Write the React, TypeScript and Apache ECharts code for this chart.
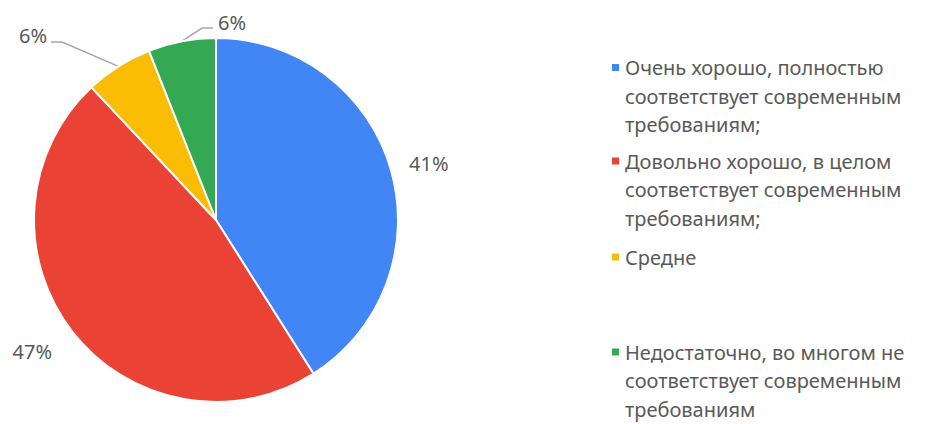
import React, { useEffect, useRef } from "react";
import * as echarts from "echarts";

const categories = [
  "Очень хорошо, полностью соответствует современным требованиям;",
  "Довольно хорошо, в целом соответствует современным требованиям;",
  "Средне",
  "Недостаточно, во многом не соответствует современным требованиям",
];
const legendLines = [
  "Очень хорошо, полностью\nсоответствует современным\nтребованиям;",
  "Довольно хорошо, в целом\nсоответствует современным\nтребованиям;",
  "Средне",
  "Недостаточно, во многом не\nсоответствует современным\nтребованиям",
];
const values = [41, 47, 6, 6];
const colors = ["#4285F4", "#EA4335", "#FBBC04", "#34A853"];

const FONT = "'Noto Sans', sans-serif";
const TEXT = "#595959";
const LINE_H = 28.5;

// label placement (layout only)
const labelPlaces: any[] = [
  { x: 409, y: 163, align: "left" },
  { x: 52, y: 351, align: "right" },
  { x: 47, y: 35, align: "right", bend: [62, 42], end: [51, 42] },
  { x: 218, y: 22, align: "left", bend: [202, 28], end: [213, 28] },
];
const legendIconY = [67.5, 161, 257, 352];

export default function App() {
  const ref = useRef<HTMLDivElement>(null);
  useEffect(() => {
    document.body.style.margin = "0";
    const chart = echarts.init(ref.current!, null, { renderer: "svg" });
    const legends = categories.map((name, i) => {
      const lines = legendLines[i].split("\n").length;
      const lead = "\n".repeat(lines - 1);
      const total = 2 * lines - 1;
      const h = total * LINE_H;
      return {
        data: [name],
        left: 605,
        top: legendIconY[i] - 5 - h / 2,
        orient: "vertical",
        icon: "rect",
        itemWidth: 9,
        itemHeight: 9,
        selectedMode: false,
        formatter: () => lead + legendLines[i],
        textStyle: {
          fontFamily: FONT,
          fontSize: 20,
          color: TEXT,
          lineHeight: LINE_H,
        },
      };
    });
    chart.setOption({
      animation: false,
      backgroundColor: "#fff",
      color: colors,
      legend: legends,
      series: [
        {
          type: "pie",
          center: [216, 220],
          radius: 182,
          startAngle: 90,
          clockwise: true,
          avoidLabelOverlap: false,
          percentPrecision: 0,
          itemStyle: { borderColor: "#fff", borderWidth: 2 },
          label: {
            show: true,
            position: "outside",
            formatter: "{d}%",
            fontFamily: FONT,
            fontSize: 20,
            color: TEXT,
          },
          labelLine: {
            show: true,
            length: 20,
            length2: 10,
            lineStyle: { color: "#A6A6A6", width: 1.5 },
          },
          labelLayout: (params: any) => {
            const p = labelPlaces[params.dataIndex];
            const out: any = { x: p.x, y: p.y, align: p.align, verticalAlign: "middle" };
            if (p.bend && params.labelLinePoints) {
              const start = params.labelLinePoints[0];
              out.labelLinePoints = [start, p.bend, p.end];
            }
            return out;
          },
          data: categories.map((name, i) => ({
            name,
            value: values[i],
            labelLine: { show: i >= 2 },
          })),
        },
      ],
    });
    return () => chart.dispose();
  }, []);
  return <div ref={ref} style={{ width: 925, height: 424 }} />;
}
